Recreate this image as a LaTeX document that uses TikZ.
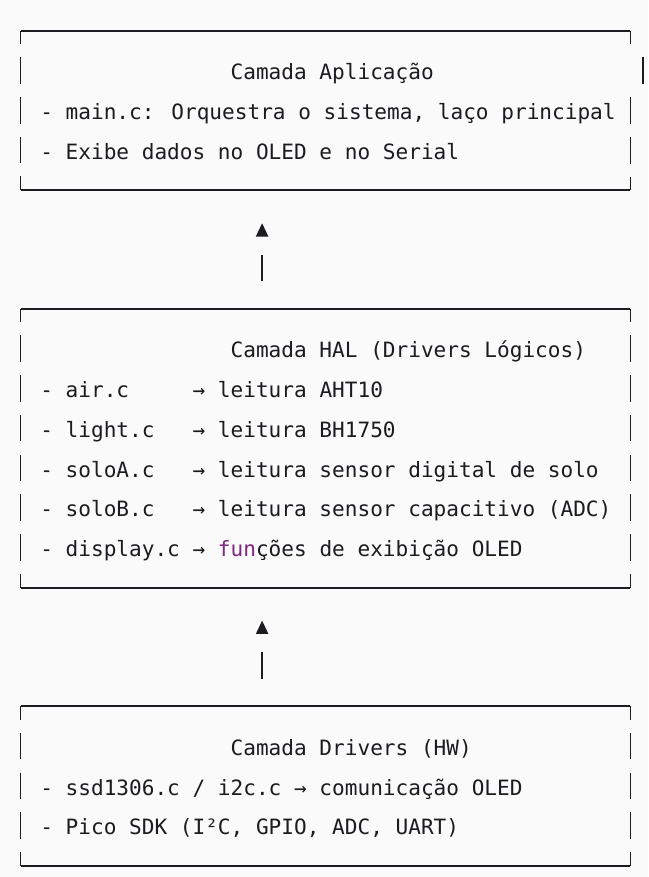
\documentclass[tikz,border=0pt]{standalone}
\usepackage{fontspec}
\setmainfont{DejaVu Sans Mono}
\usetikzlibrary{arrows.meta}
\definecolor{paper}{RGB}{250,250,250}
\definecolor{ink}{RGB}{28,28,32}
\definecolor{kw}{RGB}{128,38,128}

\begin{document}
\begin{tikzpicture} [
    x=9.5175pt, y=-29.805pt,
    font=\fontsize{15.81pt}{29.8pt}\selectfont,
    layer/.style={rectangle, draw=none, inner sep=0pt, minimum width=456.84pt},
    txt/.style={anchor=base west, inner sep=0pt, text=ink},
    edge/.style={draw=ink, line width=1.5pt},
    side/.style={draw=ink, line width=1.1pt, dash pattern=on 19.97pt off 9.84pt, dash phase=9.98pt},
    bar/.style={draw=ink, line width=1.1pt},
    link/.style={draw=ink, line width=1pt, dash pattern=on 20pt off 100pt, -{Triangle[width=9.2pt, length=10pt]}, shorten <=20.6pt, shorten >=24.75pt}
]

% Page
\path[use as bounding box, fill=paper] (-1.655,-0.780) rectangle (49.41,21.288);

% Layer 1: Camada Aplicação
\node[layer, minimum height=119.22pt] (app) at (24,2) {};
\node[txt] (app_title) at (16.5,1.226) {Camada Aplicação};
\node[txt] (app_main) at (1.5,2.226) {- main.c: Orquestra o sistema, laço principal};
\node[txt] (app_show) at (1.5,3.226) {- Exibe dados no OLED e no Serial};

% Layer 2: Camada HAL
\node[layer, minimum height=208.635pt] (hal) at (24,10.5) {};
\node[txt] (hal_title) at (16.5,8.226) {Camada HAL (Drivers Lógicos)};
\node[txt] (hal_air) at (1.5,9.226) {- air.c~~~~~→ leitura AHT10};
\node[txt] (hal_light) at (1.5,10.226) {- light.c~~~→ leitura BH1750};
\node[txt] (hal_soloa) at (1.5,11.226) {- soloA.c~~~→ leitura sensor digital de solo};
\node[txt] (hal_solob) at (1.5,12.226) {- soloB.c~~~→ leitura sensor capacitivo (ADC)};
\node[txt] (hal_disp) at (1.5,13.226) {- display.c → \textcolor{kw}{fun}ções de exibição OLED};

% Layer 3: Camada Drivers
\node[layer, minimum height=119.22pt] (drv) at (24,19) {};
\node[txt] (drv_title) at (16.5,18.226) {Camada Drivers (HW)};
\node[txt] (drv_oled) at (1.5,19.226) {- ssd1306.c / i2c.c → comunicação OLED};
\node[txt] (drv_sdk) at (1.5,20.226) {- Pico SDK (I²C, GPIO, ADC, UART)};

% Frames
\foreach \b in {app, hal, drv} {
    \draw[edge] (\b.north west) -- (\b.north east);
    \draw[edge] (\b.south west) -- (\b.south east);
    \draw[side] (\b.north west) -- (\b.south west);
}
\draw[side] (hal.north east) -- (hal.south east);
\draw[side] (drv.north east) -- (drv.south east);
\draw[side] (app.north east) -- ++(0,0.5);
\draw[side] (app.south east) -- ++(0,-2.5);
\draw[bar] (49,0.665) -- (49,1.335);

% Arrows between layers
\coordinate (stem) at (19,0);
\draw[link] (hal.north -| stem) -- (app.south -| stem);
\draw[link] (drv.north -| stem) -- (hal.south -| stem);

\end{tikzpicture}
\end{document}
